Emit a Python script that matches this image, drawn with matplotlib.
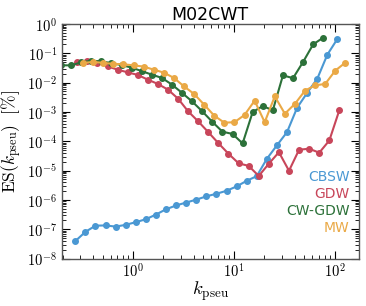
import matplotlib
matplotlib.use("Agg")
import matplotlib.pyplot as plt
import matplotlib.ticker as ticker
import numpy as np

plt.rcParams['mathtext.fontset'] = 'cm'

# CBSW
k_cbsw = [0.267, 0.337, 0.424, 0.534, 0.672, 0.846, 1.065, 1.341, 1.688, 2.125,
          2.675, 3.368, 4.24, 5.34, 6.72, 8.46, 10.65, 13.41, 16.88, 21.25,
          26.75, 33.68, 42.4, 53.4, 67.2, 84.6, 106.5]
es_cbsw = [3.9e-8, 8.1e-8, 1.32e-7, 1.35e-7, 1.23e-7, 1.41e-7, 1.74e-7, 2.19e-7, 3.16e-7, 4.79e-7,
           6.46e-7, 8.13e-7, 1.02e-6, 1.32e-6, 1.62e-6, 2.04e-6, 2.88e-6, 4.47e-6, 6.46e-6, 2.51e-5,
           7.24e-5, 2.04e-4, 1.38e-3, 4.47e-3, 1.35e-2, 8.91e-2, 0.309]

# GDW
k_gdw = [0.280, 0.352, 0.444, 0.559, 0.703, 0.885, 1.114, 1.403, 1.766, 2.223,
         2.799, 3.524, 4.436, 5.585, 7.031, 8.851, 11.14, 14.03, 17.66, 22.23,
         27.99, 35.24, 44.36, 55.85, 70.31, 88.51, 111.4]
es_gdw = [0.0516, 0.0558, 0.0478, 0.0357, 0.0275, 0.0223, 0.0182, 0.01256, 0.00895, 0.00573,
          0.00282, 0.00104, 4.74e-4, 2.03e-4, 8.55e-5, 3.74e-5, 1.77e-5, 1.44e-5, 6.55e-6, 1.71e-5,
          4.22e-5, 9.84e-6, 5.13e-5, 5.55e-5, 4.06e-5, 1.06e-4, 1.16e-3]

# CW-GDW
k_cwgdw = [0.194, 0.244, 0.307, 0.386, 0.486, 0.612, 0.771, 0.970, 1.221, 1.538,
           1.936, 2.438, 3.069, 3.863, 4.864, 6.124, 7.709, 9.705, 12.22, 15.38,
           19.36, 24.38, 30.69, 38.63, 48.64, 61.24, 77.09]
es_cwgdw = [0.0386, 0.0386, 0.0489, 0.0551, 0.0525, 0.0459, 0.0393, 0.0323, 0.0245, 0.0186,
            0.01436, 0.00847, 0.00442, 0.00226, 0.00104, 4.56e-4, 2.11e-4, 1.77e-4, 8.41e-5, 9.93e-4,
            1.57e-3, 1.14e-3, 0.0176, 0.0141, 0.0505, 0.201, 0.340]

# MW
k_mw = [0.321, 0.404, 0.508, 0.640, 0.805, 1.014, 1.276, 1.607, 2.023, 2.547,
        3.206, 4.036, 5.081, 6.397, 8.053, 10.14, 12.76, 16.07, 20.23, 25.47,
        32.06, 40.36, 50.81, 63.97, 80.53, 101.4, 127.6]
es_mw = [0.0467, 0.0505, 0.0467, 0.0432, 0.0418, 0.0386, 0.0349, 0.0275, 0.0218, 0.01436,
         0.00741, 0.00408, 0.00176, 7.41e-4, 4.28e-4, 4.45e-4, 7.83e-4, 2.41e-3, 4.45e-4, 3.38e-3,
         8.69e-4, 1.88e-3, 5.30e-3, 8.02e-3, 8.95e-3, 0.0255, 0.0478]

series = [
    ('CBSW', k_cbsw, es_cbsw, '#4a98d3'),
    ('GDW', k_gdw, es_gdw, '#c8465a'),
    ('CW-GDW', k_cwgdw, es_cwgdw, '#2c7139'),
    ('MW', k_mw, es_mw, '#eaa946'),
]

fig = plt.figure(figsize=(3.66, 3.06), dpi=100)
ax = fig.add_axes([0.169, 0.155, 0.811, 0.767])

for name, k, es, c in series:
    ax.plot(k, es, '-o', color=c, lw=1.5, ms=4, label=name)

ax.set_xscale('log')
ax.set_yscale('log')
ax.set_xlim(0.197, 173)
ax.set_ylim(1e-8, 1)

fmt = ticker.FuncFormatter(lambda v, p: r'$10^{%d}$' % round(np.log10(v)))
ax.xaxis.set_major_locator(ticker.LogLocator(base=10, numticks=20))
ax.yaxis.set_major_locator(ticker.LogLocator(base=10, numticks=20))
ax.xaxis.set_minor_locator(ticker.LogLocator(base=10, subs=np.arange(2, 10), numticks=20))
ax.yaxis.set_minor_locator(ticker.LogLocator(base=10, subs=np.arange(2, 10), numticks=20))
ax.xaxis.set_major_formatter(fmt)
ax.yaxis.set_major_formatter(fmt)
ax.xaxis.set_minor_formatter(ticker.NullFormatter())
ax.yaxis.set_minor_formatter(ticker.NullFormatter())
ax.tick_params(which='both', direction='in', top=True, right=True, labelsize=10.5)
ax.tick_params(which='major', length=6, width=0.8)
ax.tick_params(which='minor', length=3, width=0.6)
ax.tick_params(axis='x', pad=2)
for s in ax.spines.values():
    s.set_linewidth(1.0)
    s.set_color('#555555')

ax.set_xlabel(r'$k_{\rm pseu}$', fontsize=13.5, labelpad=0)
ax.set_ylabel(r'${\rm ES}(k_{\rm pseu})\ \ [\%]$', fontsize=12.5, labelpad=2)
ax.set_title('M02CWT', fontsize=12.5, pad=3)

leg = ax.legend(loc='lower right', bbox_to_anchor=(0.97, 0.1), frameon=False,
                handlelength=0, handletextpad=0, markerfirst=False, alignment='right',
                labelcolor='linecolor', fontsize=10, borderaxespad=0, borderpad=0,
                labelspacing=0.23)
for h in leg.legend_handles:
    h.set_visible(False)

fig.savefig('out.png', dpi=100)
